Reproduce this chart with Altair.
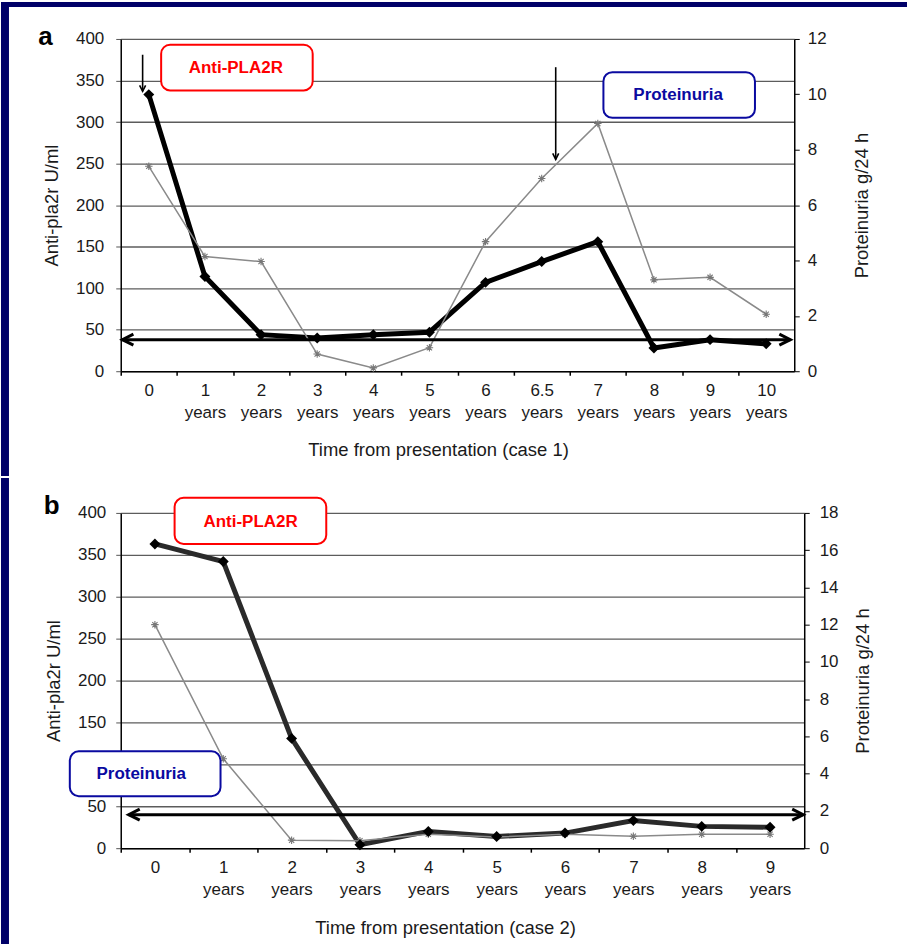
import json
import numpy as np
import pandas as pd
import altair as alt

FONT = "Liberation Sans"
NAVY = "#000068"
UNIT = "years"

# ---------------- Panel a (case 1) ----------------
cats_a = ["0", "1", "2", "3", "4", "5", "6", "6.5", "7", "8", "9", "10"]
pla2r_a = [333, 114, 44, 40, 44, 47, 107, 132, 156, 28, 38, 33]
prot_a = [7.4, 4.14, 3.96, 0.62, 0.12, 0.85, 4.68, 6.96, 8.95, 3.3, 3.39, 2.06]

# ---------------- Panel b (case 2) ----------------
cats_b = ["0", "1", "2", "3", "4", "5", "6", "7", "8", "9"]
pla2r_b = [363, 342, 131, 4, 20, 14, 18, 33, 26, 25]
prot_b = [12.0, 4.8, 0.43, 0.4, 0.75, 0.6, 0.75, 0.64, 0.75, 0.75]

# annotation anchors (category-index units, U/ml)
thr_a = 38
harrow_a = [0.03, 11.93]
varrows_a = {"x": [0.39, 7.75], "top": [381, 366], "tip": [337, 255]}
boxes_a = {"x1": [0.72, 8.6], "x2": [3.42, 11.3], "y1": [393, 360], "y2": [338, 305],
           "tx": [2.05, 9.93], "ty": [365, 332], "label": ["Anti-PLA2R", "Proteinuria"],
           "col": ["#ff0000", "#0a0aa0"]}
letter_a = {"x": [-1.47], "y": [393], "t": ["a"]}

thr_b = 40
harrow_b = [0.117, 9.985]
boxes_b = {"x1": [0.788, -0.745], "x2": [3.007, 1.46], "y1": [418, 115.5], "y2": [363, 62],
           "tx": [1.9, 0.3], "ty": [389, 88], "label": ["Anti-PLA2R", "Proteinuria"],
           "col": ["#ff0000", "#0a0aa0"]}
letter_b = {"x": [-1.128], "y": [399], "t": ["b"]}
hidden_b = [100]   # tick label covered by the Proteinuria box in panel b

ASTERISK = "M-1,0L1,0M0,-1L0,1M-0.7,-0.7L0.7,0.7M-0.7,0.7L0.7,-0.7"
DOWN_CHEV = "M-1,-2L0,0L1,-2"
LEFT_CHEV = "M2,-1L0,0L2,1"
RIGHT_CHEV = "M-2,-1L0,0L-2,1"


def panel(cats, pla2r, prot, prot_max, width, height, xtitle, xtitle_x, xtitle_pad,
          thr, harrow, varrows, boxes, letter, strips, lpad_l, tpad_l,
          lpad_r, tpad_r, thick_color, hidden):
    n = len(cats)
    df = pd.DataFrame({"pos": np.arange(n) + 0.5, "pla2r": pla2r, "prot": prot})
    xs = alt.Scale(domain=[0, n], nice=False, zero=False)
    ysl = alt.Scale(domain=[0, 400], nice=False, zero=False)
    ysr = alt.Scale(domain=[0, prot_max], nice=False, zero=False)
    lab = json.dumps([[c] if c == "0" else [c, UNIT] for c in cats])
    xaxis = alt.Axis(values=list(range(n)), labelExpr=f"{lab}[datum.value]",
                     labelOffset=width / n / 2, tickSize=4, labelPadding=7,
                     labelLineHeight=22, title=xtitle, titleX=xtitle_x,
                     titlePadding=xtitle_pad, grid=False, labelOverlap=False,
                     labelFlush=False, labelBound=False, domainColor="black",
                     domainWidth=1.5, tickColor="black", tickWidth=1.5)

    def X(field):
        return alt.X(field, scale=xs, axis=xaxis)

    hid = json.dumps(hidden)
    left_axis = alt.Axis(
        orient="left", values=list(range(0, 401, 50)), grid=True,
        labelExpr=f"indexof({hid}, datum.value) >= 0 ? '' : datum.label",
        title="Anti-pla2r U/ml", tickSize=5, labelPadding=lpad_l,
        titlePadding=tpad_l, domainColor="black", domainWidth=1.5,
        tickColor="#555", gridColor="#5c5c5c", gridWidth=1.3)
    yl_ax = alt.Y("pla2r:Q", scale=ysl, axis=left_axis)
    yl_no = alt.Y("pla2r:Q", scale=ysl, axis=None)
    yr_ax = alt.Y("prot:Q", scale=ysr, axis=alt.Axis(
        orient="right", values=list(range(0, prot_max + 1, 2)), grid=False,
        title="Proteinuria g/24 h", titleAngle=270, titleBaseline="top",
        tickSize=5, labelPadding=lpad_r, titlePadding=tpad_r,
        domainColor="black", domainWidth=1.5, tickColor="black"))
    yr_no = alt.Y("prot:Q", scale=ysr, axis=None)

    base = alt.Chart(df)
    gray_line = base.mark_line(color="#8a8a8a", strokeWidth=1.5).encode(x=X("pos:Q"), y=yr_ax)
    gray_pts = base.mark_point(shape=ASTERISK, filled=False, size=56, strokeWidth=1.1,
                               color="#777777", opacity=1).encode(x=X("pos:Q"), y=yr_no)

    thick = base.mark_line(color=thick_color, strokeWidth=5).encode(x=X("pos:Q"), y=yl_ax)
    dia = base.mark_point(shape="diamond", filled=True, size=120, color="black",
                          opacity=1).encode(x=X("pos:Q"), y=yl_no)

    hdf = pd.DataFrame({"pos": [harrow[0]], "pos2": [harrow[1]], "pla2r": [thr]})
    hrule = alt.Chart(hdf).mark_rule(color="black", strokeWidth=3).encode(
        x=X("pos:Q"), x2="pos2:Q", y=yl_no)
    lhead = alt.Chart(hdf).mark_point(shape=LEFT_CHEV, filled=False, size=121,
                                      strokeWidth=3, color="black", opacity=1).encode(
        x=X("pos:Q"), y=yl_no)
    rhead = alt.Chart(hdf).mark_point(shape=RIGHT_CHEV, filled=False, size=121,
                                      strokeWidth=3, color="black", opacity=1).encode(
        x=X("pos2:Q"), y=yl_no)

    bdf = pd.DataFrame(boxes)
    rects = alt.Chart(bdf).mark_rect(fill="white", strokeWidth=2, cornerRadius=9).encode(
        x=X("x1:Q"), x2="x2:Q",
        y=alt.Y("y1:Q", scale=ysl, axis=None), y2="y2:Q",
        stroke=alt.Color("col:N", scale=None))
    btxt = alt.Chart(bdf).mark_text(font=FONT, fontSize=17, fontWeight="bold",
                                    align="center", baseline="middle").encode(
        x=X("tx:Q"), y=alt.Y("ty:Q", scale=ysl, axis=None),
        text="label:N", color=alt.Color("col:N", scale=None))

    ldf = pd.DataFrame(letter)
    ltxt = alt.Chart(ldf).mark_text(font=FONT, fontSize=26, fontWeight="bold",
                                    align="left", baseline="alphabetic", color="black").encode(
        x=X("x:Q"), y=alt.Y("y:Q", scale=ysl, axis=None), text="t:N")

    layers = [thick, gray_line, gray_pts, dia, hrule, lhead, rhead]
    if varrows is not None:
        vdf = pd.DataFrame(varrows)
        vrule = alt.Chart(vdf).mark_rule(color="black", strokeWidth=1.6).encode(
            x=X("x:Q"), y=alt.Y("top:Q", scale=ysl, axis=None), y2="tip:Q")
        vhead = alt.Chart(vdf).mark_point(shape=DOWN_CHEV, filled=False, size=36,
                                          strokeWidth=1.6, color="black", opacity=1).encode(
            x=X("x:Q"), y=alt.Y("tip:Q", scale=ysl, axis=None))
        layers += [vrule, vhead]
    layers += [rects, btxt, ltxt]

    one = pd.DataFrame({"k": [0]})
    for (sx, sx2, sy, sy2) in strips:
        layers.append(alt.Chart(one).mark_rect(color=NAVY).encode(
            x=alt.value(sx), x2=alt.value(sx2), y=alt.value(sy), y2=alt.value(sy2)))

    return alt.layer(*layers).resolve_scale(y="independent").properties(
        width=width, height=height)


pa = panel(cats_a, pla2r_a, prot_a, 12, 675, 333, "Time from presentation (case 1)", 318, 20,
           thr_a, harrow_a, varrows_a, boxes_a, letter_a,
           [(-120, 788, -37, -32), (-120, -112, -37, 438)], 12, 14, 8, 27, "black", [])
pb = panel(cats_b, pla2r_b, prot_b, 18, 685, 336, "Time from presentation (case 2)", 325, 22,
           thr_b, harrow_b, None, boxes_b, letter_b,
           [(-120, -112, -35, 432)], 10, 14, 10, 16, "#2a2a2a", hidden_b)

chart = alt.vconcat(pa, pb, spacing=0).properties(
    padding=0, background="white"
).configure_view(stroke="transparent").configure_axis(
    labelFont=FONT, labelFontSize=17, labelColor="#1a1a1a",
    titleFont=FONT, titleFontSize=18.5, titleFontWeight="normal", titleColor="#1a1a1a"
).configure_text(font=FONT)

chart.save("out.html", embed_options={"renderer": "svg", "actions": False})
